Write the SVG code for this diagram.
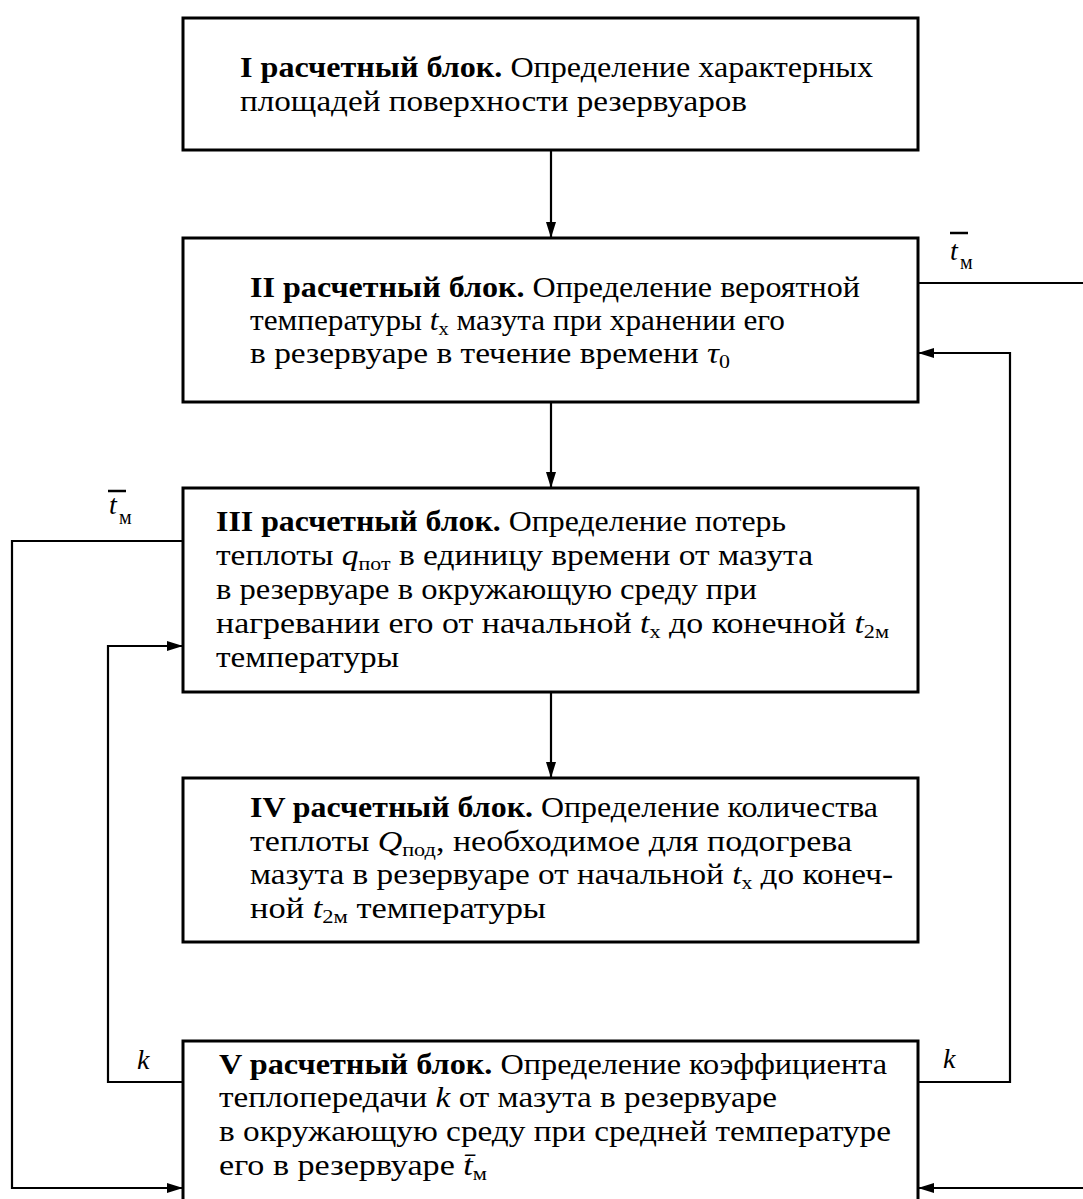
<svg xmlns="http://www.w3.org/2000/svg" width="1083" height="1199" viewBox="0 0 1083 1199">
<style>
.box{fill:#fff;stroke:#000;stroke-width:3}
.t{font-family:"Liberation Serif","Times New Roman",serif;font-size:29px;fill:#000}
.b{font-weight:bold}
.i{font-style:italic}
.sub{font-size:19px}
.lbl{font-family:"Liberation Serif","Times New Roman",serif;font-size:28px;font-style:italic;fill:#000}
.lsub{font-family:"Liberation Serif","Times New Roman",serif;font-size:20px;fill:#000}
.c{fill:none;stroke:#000;stroke-width:2.2}
</style>
<defs>
<marker id="ah" markerUnits="userSpaceOnUse" markerWidth="18" markerHeight="12" refX="16" refY="5" orient="auto">
<path d="M0,0 L16,5 L0,10 Z" fill="#000"/>
</marker>
</defs>
<rect width="1083" height="1199" fill="#fff"/>

<g id="connectors">
<path class="c" d="M551,150 V238" marker-end="url(#ah)"/>
<path class="c" d="M551,402 V488" marker-end="url(#ah)"/>
<path class="c" d="M551,692 V778" marker-end="url(#ah)"/>
<path class="c" d="M918,283 H1083"/>
<path class="c" d="M1083,1188 H918" marker-end="url(#ah)"/>
<path class="c" d="M918,1082 H1010 V353 H918" marker-end="url(#ah)"/>
<path class="c" d="M183,541 H12 V1188 H183" marker-end="url(#ah)"/>
<path class="c" d="M183,1082 H108 V646 H183" marker-end="url(#ah)"/>
<g id="labels">
<line x1="950" y1="233" x2="968" y2="233" stroke="#000" stroke-width="2.5"/>
<text class="lbl" x="950" y="260">t</text><text class="lsub" x="960" y="269">м</text>
<line x1="108" y1="491" x2="126" y2="491" stroke="#000" stroke-width="2.5"/>
<text class="lbl" x="109" y="514">t</text><text class="lsub" x="119" y="524">м</text>
<text class="lbl" x="137" y="1069">k</text>
<text class="lbl" x="943" y="1068">k</text>
</g>
</g>

<g id="block1">
<rect class="box" x="183" y="18" width="735" height="132"/>
<text class="t" x="240" y="77" textLength="633" lengthAdjust="spacingAndGlyphs"><tspan class="b">I расчетный блок.</tspan> Определение характерных</text>
<text class="t" x="240" y="111" textLength="507" lengthAdjust="spacingAndGlyphs">площадей поверхности резервуаров</text>
</g>

<g id="block2">
<rect class="box" x="183" y="238" width="735" height="164"/>
<text class="t" x="250" y="297" textLength="610" lengthAdjust="spacingAndGlyphs"><tspan class="b">II расчетный блок.</tspan> Определение вероятной</text>
<text class="t" x="250" y="330" textLength="535" lengthAdjust="spacingAndGlyphs">температуры <tspan class="i">t</tspan><tspan class="sub" dy="5">х</tspan><tspan dy="-5"> мазута при хранении его</tspan></text>
<text class="t" x="250" y="363" textLength="480" lengthAdjust="spacingAndGlyphs">в резервуаре в течение времени <tspan class="i">τ</tspan><tspan class="sub" dy="5">0</tspan></text>
</g>

<g id="block3">
<rect class="box" x="183" y="488" width="735" height="204"/>
<text class="t" x="216" y="531" textLength="570" lengthAdjust="spacingAndGlyphs"><tspan class="b">III расчетный блок.</tspan> Определение потерь</text>
<text class="t" x="216" y="565" textLength="597" lengthAdjust="spacingAndGlyphs">теплоты <tspan class="i">q</tspan><tspan class="sub" dy="5">пот</tspan><tspan dy="-5"> в единицу времени от мазута</tspan></text>
<text class="t" x="216" y="599" textLength="541" lengthAdjust="spacingAndGlyphs">в резервуаре в окружающую среду при</text>
<text class="t" x="216" y="633" textLength="673" lengthAdjust="spacingAndGlyphs">нагревании его от начальной <tspan class="i">t</tspan><tspan class="sub" dy="5">х</tspan><tspan dy="-5"> до конечной </tspan><tspan class="i">t</tspan><tspan class="sub" dy="5">2м</tspan></text>
<text class="t" x="216" y="667" textLength="183" lengthAdjust="spacingAndGlyphs">температуры</text>
</g>

<g id="block4">
<rect class="box" x="183" y="778" width="735" height="164"/>
<text class="t" x="250" y="817" textLength="628" lengthAdjust="spacingAndGlyphs"><tspan class="b">IV расчетный блок.</tspan> Определение количества</text>
<text class="t" x="250" y="851" textLength="602" lengthAdjust="spacingAndGlyphs">теплоты <tspan class="i">Q</tspan><tspan class="sub" dy="5">под</tspan><tspan dy="-5">, необходимое для подогрева</tspan></text>
<text class="t" x="250" y="884" textLength="643" lengthAdjust="spacingAndGlyphs">мазута в резервуаре от начальной <tspan class="i">t</tspan><tspan class="sub" dy="5">х</tspan><tspan dy="-5"> до конеч-</tspan></text>
<text class="t" x="250" y="918" textLength="296" lengthAdjust="spacingAndGlyphs">ной <tspan class="i">t</tspan><tspan class="sub" dy="5">2м</tspan><tspan dy="-5"> температуры</tspan></text>
</g>

<g id="block5">
<rect class="box" x="183" y="1041" width="735" height="185"/>
<text class="t" x="219" y="1074" textLength="668" lengthAdjust="spacingAndGlyphs"><tspan class="b">V расчетный блок.</tspan> Определение коэффициента</text>
<text class="t" x="219" y="1107" textLength="558" lengthAdjust="spacingAndGlyphs">теплопередачи <tspan class="i">k</tspan> от мазута в резервуаре</text>
<text class="t" x="219" y="1141" textLength="672" lengthAdjust="spacingAndGlyphs">в окружающую среду при средней температуре</text>
<text class="t" x="219" y="1175" textLength="268" lengthAdjust="spacingAndGlyphs">его в резервуаре <tspan class="i">t̄</tspan><tspan class="sub" dy="5">м</tspan></text>
</g>
</svg>
